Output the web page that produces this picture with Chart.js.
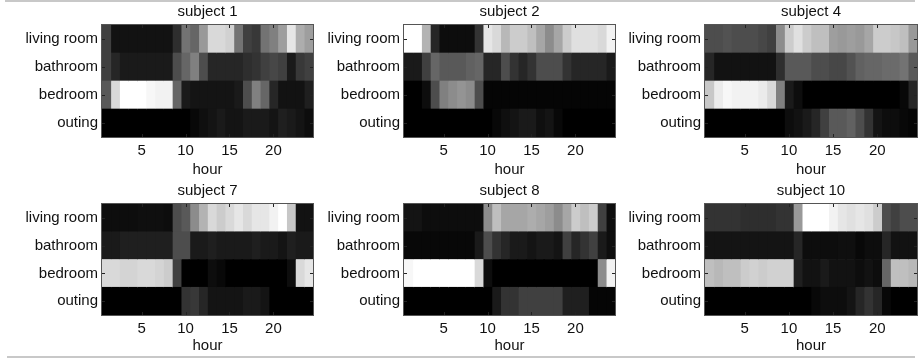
<!DOCTYPE html>
<html>
<head>
<meta charset="utf-8">
<script src="https://cdn.jsdelivr.net/npm/chart.js@4/dist/chart.umd.min.js"></script>
<style>
  body { margin: 0; background: #fff; }
  #page { position: relative; width: 920px; height: 358px; overflow: hidden; }
  canvas { position: absolute; }
  .rule { position: absolute; height: 2px; background: #c8c8c8; }
</style>
</head>
<body>
<div id="page">
  <div class="rule" style="left:5px; top:0px; width:910px;"></div>
  <div class="rule" style="left:7px; top:356px; width:908px;"></div>
  <canvas id="s1" width="316" height="180" style="left:0px; top:0px;"></canvas>
  <canvas id="s2" width="316" height="180" style="left:302px; top:0px;"></canvas>
  <canvas id="s4" width="317" height="180" style="left:603px; top:0px;"></canvas>
  <canvas id="s7" width="316" height="177" style="left:0px; top:179px;"></canvas>
  <canvas id="s8" width="316" height="177" style="left:302px; top:179px;"></canvas>
  <canvas id="s10" width="317" height="177" style="left:603px; top:179px;"></canvas>
</div>
<script>
// rows, top to bottom
var rooms = ['living room', 'bathroom', 'bedroom', 'outing'];
var hours = [1, 2, 3, 4, 5, 6, 7, 8, 9, 10, 11, 12, 13, 14, 15, 16, 17, 18, 19, 20, 21, 22, 23, 24];
var hourTicks = [5, 10, 15, 20];

// share of time per room and hour (0 = black, 1 = white)
var subject1 = [
    [0.25,0.07,0.07,0.07,0.07,0.07,0.07,0.07,0.18,0.45,0.40,0.60,0.85,0.85,0.82,0.45,0.25,0.22,0.45,0.50,0.62,0.90,0.68,0.62],
    [0.25,0.15,0.10,0.10,0.10,0.10,0.10,0.10,0.30,0.40,0.50,0.30,0.15,0.15,0.15,0.15,0.18,0.20,0.25,0.28,0.25,0.10,0.22,0.25],
    [0.35,0.85,1.00,1.00,1.00,0.97,0.95,0.95,0.40,0.10,0.08,0.08,0.08,0.08,0.08,0.10,0.30,0.50,0.40,0.15,0.07,0.07,0.07,0.12],
    [0.00,0.00,0.00,0.00,0.00,0.00,0.00,0.00,0.00,0.00,0.03,0.06,0.08,0.10,0.08,0.08,0.10,0.10,0.10,0.08,0.12,0.10,0.08,0.05]
];
var subject2 = [
    [1.00,1.00,0.70,0.15,0.05,0.05,0.05,0.05,0.20,0.90,0.85,0.72,0.80,0.80,0.75,0.65,0.55,0.65,0.80,0.88,0.88,0.88,0.85,0.95],
    [0.10,0.10,0.25,0.40,0.35,0.35,0.35,0.38,0.40,0.15,0.15,0.30,0.20,0.15,0.20,0.30,0.30,0.30,0.20,0.15,0.15,0.15,0.15,0.10],
    [0.00,0.00,0.05,0.30,0.50,0.55,0.58,0.55,0.30,0.02,0.02,0.02,0.02,0.02,0.02,0.02,0.02,0.02,0.02,0.02,0.02,0.02,0.02,0.02],
    [0.00,0.00,0.00,0.00,0.00,0.00,0.00,0.00,0.00,0.00,0.03,0.06,0.08,0.10,0.10,0.06,0.08,0.03,0.00,0.00,0.00,0.00,0.00,0.00]
];
var subject4 = [
    [0.30,0.30,0.32,0.30,0.30,0.30,0.28,0.25,0.55,0.80,0.88,0.80,0.75,0.75,0.62,0.60,0.62,0.60,0.65,0.80,0.80,0.78,0.75,0.60],
    [0.15,0.07,0.07,0.07,0.07,0.07,0.07,0.07,0.18,0.35,0.35,0.35,0.30,0.30,0.28,0.28,0.32,0.38,0.40,0.40,0.42,0.42,0.45,0.35],
    [0.78,0.92,0.97,0.95,0.95,0.95,0.92,0.85,0.50,0.10,0.05,0.00,0.00,0.00,0.00,0.00,0.00,0.00,0.00,0.00,0.00,0.00,0.03,0.15],
    [0.00,0.00,0.00,0.00,0.00,0.00,0.00,0.00,0.00,0.05,0.07,0.10,0.15,0.25,0.35,0.35,0.38,0.30,0.20,0.08,0.05,0.05,0.03,0.02]
];
var subject7 = [
    [0.05,0.05,0.05,0.05,0.06,0.06,0.06,0.05,0.30,0.35,0.55,0.70,0.85,0.80,0.85,0.90,0.85,0.90,0.90,0.95,1.00,0.78,0.07,0.07],
    [0.10,0.10,0.12,0.12,0.12,0.12,0.12,0.12,0.30,0.30,0.10,0.10,0.12,0.10,0.10,0.10,0.10,0.12,0.10,0.10,0.08,0.12,0.10,0.10],
    [0.85,0.85,0.83,0.83,0.85,0.85,0.83,0.80,0.25,0.00,0.00,0.00,0.05,0.03,0.00,0.00,0.00,0.00,0.00,0.00,0.00,0.05,0.85,0.90],
    [0.00,0.00,0.00,0.00,0.00,0.00,0.00,0.00,0.00,0.20,0.22,0.15,0.08,0.08,0.08,0.08,0.10,0.10,0.08,0.00,0.00,0.00,0.00,0.00]
];
var subject8 = [
    [0.08,0.08,0.05,0.05,0.05,0.05,0.05,0.05,0.05,0.55,0.75,0.65,0.65,0.65,0.68,0.65,0.62,0.55,0.65,0.80,0.75,0.80,0.25,0.05],
    [0.03,0.03,0.03,0.03,0.03,0.03,0.03,0.03,0.10,0.30,0.20,0.15,0.10,0.10,0.08,0.10,0.10,0.08,0.25,0.15,0.20,0.25,0.10,0.05],
    [0.97,1.00,1.00,1.00,1.00,1.00,1.00,1.00,0.85,0.05,0.00,0.00,0.00,0.00,0.00,0.00,0.00,0.00,0.00,0.00,0.00,0.00,0.55,0.95],
    [0.00,0.00,0.00,0.00,0.00,0.00,0.00,0.00,0.00,0.00,0.10,0.20,0.20,0.25,0.25,0.25,0.25,0.25,0.12,0.12,0.12,0.02,0.02,0.02]
];
var subject10 = [
    [0.20,0.20,0.20,0.20,0.18,0.18,0.18,0.18,0.20,0.20,0.60,1.00,1.00,1.00,0.95,0.90,0.88,0.90,0.88,0.80,0.30,0.25,0.30,0.30],
    [0.08,0.08,0.08,0.08,0.08,0.08,0.08,0.08,0.08,0.08,0.15,0.05,0.05,0.05,0.05,0.06,0.06,0.03,0.05,0.05,0.15,0.07,0.07,0.07],
    [0.75,0.72,0.75,0.75,0.80,0.82,0.80,0.82,0.82,0.82,0.12,0.07,0.07,0.10,0.07,0.07,0.07,0.05,0.07,0.05,0.40,0.75,0.75,0.72],
    [0.00,0.00,0.00,0.00,0.00,0.00,0.00,0.00,0.00,0.00,0.00,0.00,0.03,0.05,0.05,0.05,0.08,0.15,0.20,0.15,0.03,0.00,0.00,0.00]
];

Chart.defaults.font.family = '"Liberation Sans", Arial, Helvetica, sans-serif';
Chart.defaults.font.size = 15;
Chart.defaults.color = '#111';

function gray(v){
    var g = Math.round(v * 255);
    return 'rgb(' + g + ',' + g + ',' + g + ')';
}

// box round the axes plus small inward ticks, like matlab
var boxPlugin = {
    id: 'box',
    afterDatasetsDraw: function(chart){
        var ctx = chart.ctx, a = chart.chartArea;
        var x = chart.scales.x, y = chart.scales.y;
        ctx.save();
        ctx.strokeStyle = '#222';
        ctx.lineWidth = 1;
        ctx.beginPath();
        hourTicks.forEach(function(h){
            var px = Math.round(x.getPixelForValue(h)) + 0.5;
            ctx.moveTo(px, a.top); ctx.lineTo(px, a.top + 3);
            ctx.moveTo(px, a.bottom); ctx.lineTo(px, a.bottom - 3);
        });
        rooms.forEach(function(r, i){
            var py = Math.round(y.getPixelForValue(i)) + 0.5;
            ctx.moveTo(a.left, py); ctx.lineTo(a.left + 3, py);
            ctx.moveTo(a.right, py); ctx.lineTo(a.right - 3, py);
        });
        ctx.stroke();
        ctx.strokeStyle = '#555';
        ctx.strokeRect(a.left - 0.5, a.top - 0.5, a.right - a.left + 1, a.bottom - a.top + 1);
        ctx.restore();
    }
};

function HeatMap(id, title, rows, plotHeight){
    var canvas = document.getElementById(id);
    var datasets = hours.map(function(h, i){
        return {
            // a little overlap to the left hides seams, the next hour is drawn over it
            data: rooms.map(function(){ return [h - 0.6, h + 0.5]; }),
            backgroundColor: rows.map(function(row){ return gray(row[i]); }),
            borderWidth: 0,
            clip: 0
        };
    });
    new Chart(canvas.getContext('2d'), {
        type: 'bar',
        data: { labels: rooms, datasets: datasets },
        plugins: [boxPlugin],
        options: {
            indexAxis: 'y',
            responsive: false,
            animation: false,
            grouped: false,
            barPercentage: 1,
            categoryPercentage: 1,
            layout: { padding: { left: 0, right: 3, top: 0, bottom: 1 } },
            plugins: {
                legend: { display: false },
                tooltip: { enabled: false },
                title: {
                    display: true,
                    text: title,
                    fullSize: false,
                    font: { size: 15, weight: 'normal' },
                    color: '#111',
                    padding: { top: 3, bottom: 4 }
                }
            },
            scales: {
                x: {
                    type: 'linear',
                    min: 0.5,
                    max: 24.5,
                    grid: { display: false, drawTicks: false },
                    border: { display: false },
                    afterBuildTicks: function(scale){
                        scale.ticks = hourTicks.map(function(v){ return { value: v }; });
                    },
                    afterFit: function(scale){
                        scale.height = canvas.height - 1 - 25 - plotHeight;
                    },
                    ticks: { padding: 5, font: { size: 15 }, color: '#111', maxRotation: 0 },
                    title: { display: true, text: 'hour', font: { size: 15 }, color: '#111', padding: { top: 0, bottom: 0 } }
                },
                y: {
                    type: 'category',
                    grid: { display: false, drawTicks: false },
                    border: { display: false },
                    afterFit: function(scale){ scale.width = 102; },
                    ticks: { padding: 4, font: { size: 15 }, color: '#111' }
                }
            }
        }
    });
}

HeatMap('s1', 'subject 1', subject1, 112);
HeatMap('s2', 'subject 2', subject2, 112);
HeatMap('s4', 'subject 4', subject4, 112);
HeatMap('s7', 'subject 7', subject7, 111);
HeatMap('s8', 'subject 8', subject8, 111);
HeatMap('s10', 'subject 10', subject10, 111);
</script>
</body>
</html>
